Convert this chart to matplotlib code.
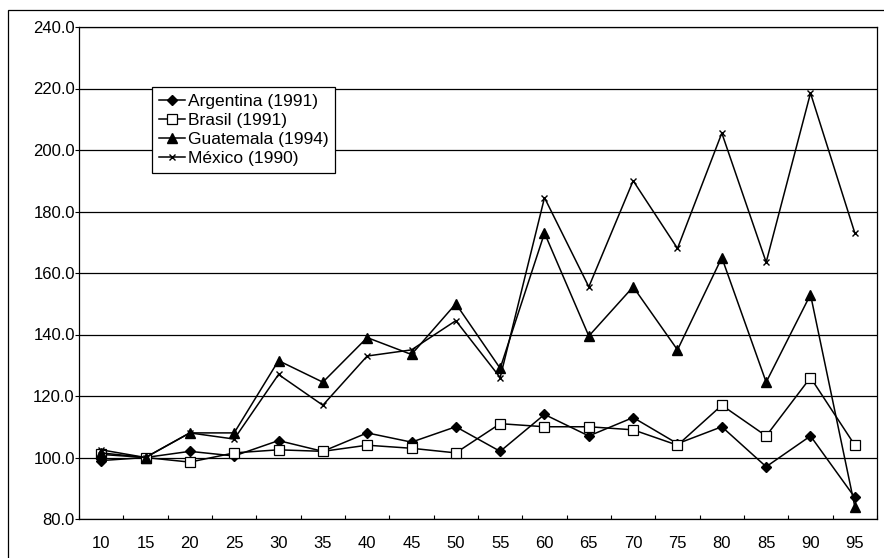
import matplotlib
matplotlib.use('AGG')
import matplotlib.pyplot as plt
from matplotlib.patches import Rectangle
from matplotlib.ticker import FixedLocator

plt.rcParams['font.family'] = ['Liberation Sans', 'DejaVu Sans']

categories = ["10", "15", "20", "25", "30", "35", "40", "45", "50",
              "55", "60", "65", "70", "75", "80", "85", "90", "95"]
argentina = [99, 100, 102, 100.5, 105.5, 102, 108, 105, 110,
             102, 114, 107, 113, 104.5, 110, 97, 107, 87]
brasil = [101, 100, 98.5, 101.5, 102.5, 102, 104, 103, 101.5,
          111, 110, 110, 109, 104, 117, 107, 126, 104]
guatemala = [101.5, 100, 108, 108, 131.5, 124.5, 139, 133.5, 150,
             129, 173, 139.5, 155.5, 135, 165, 124.5, 153, 84]
mexico = [102.5, 100, 108, 106, 127, 117, 133, 135, 144.5,
          126, 184.5, 155.5, 190, 168, 205.5, 163.5, 218.5, 173]
labels = ["Argentina (1991)", "Brasil (1991)", "Guatemala (1994)", "México (1990)"]

fig = plt.figure(figsize=(8.84, 5.58), dpi=100)
ax = fig.add_axes([79 / 884, 39 / 558, 798 / 884, 492 / 558])

# outer chart frame
fig.patches.append(Rectangle((8 / 884, -0.02), 1.0, 1 - 10 / 558 + 0.02,
                             transform=fig.transFigure, fill=False,
                             edgecolor='black', linewidth=0.9))

x = list(range(len(categories)))
ax.plot(x, argentina, color='black', lw=1.1, marker='D', ms=5,
        mfc='black', label=labels[0])
ax.plot(x, brasil, color='black', lw=1.1, marker='s', ms=7,
        mfc='white', mew=0.9, label=labels[1])
ax.plot(x, guatemala, color='black', lw=1.1, marker='^', ms=6.5,
        mfc='black', label=labels[2])
ax.plot(x, mexico, color='black', lw=1.1, marker='x', ms=5,
        mew=1.0, label=labels[3])

ax.set_xlim(-0.5, len(categories) - 0.5)
ax.set_ylim(80, 240)
ax.set_yticks(range(80, 241, 20))
ax.set_yticklabels([f"{v:.1f}" for v in range(80, 241, 20)])
ax.set_xticks(x)
ax.set_xticklabels(categories)
ax.xaxis.set_minor_locator(FixedLocator([i + 0.5 for i in range(-1, len(categories))]))
ax.tick_params(axis='x', which='major', length=0, pad=12, labelsize=12)
ax.tick_params(axis='x', which='minor', length=3, direction='in', width=0.8)
ax.tick_params(axis='y', length=3, direction='out', labelsize=12, pad=0)
ax.yaxis.grid(True, color='black', lw=0.9)
ax.set_axisbelow(True)
for s in ax.spines.values():
    s.set_linewidth(0.9)

leg = ax.legend(loc='upper left', bbox_to_anchor=(0.0915, 0.878),
                fontsize=12.5, handlelength=1.5, handletextpad=0.15,
                labelspacing=0.22, borderpad=0.4, fancybox=False,
                framealpha=1, edgecolor='black', borderaxespad=0)
leg.get_frame().set_linewidth(0.9)

fig.savefig('out.png', dpi=100)
